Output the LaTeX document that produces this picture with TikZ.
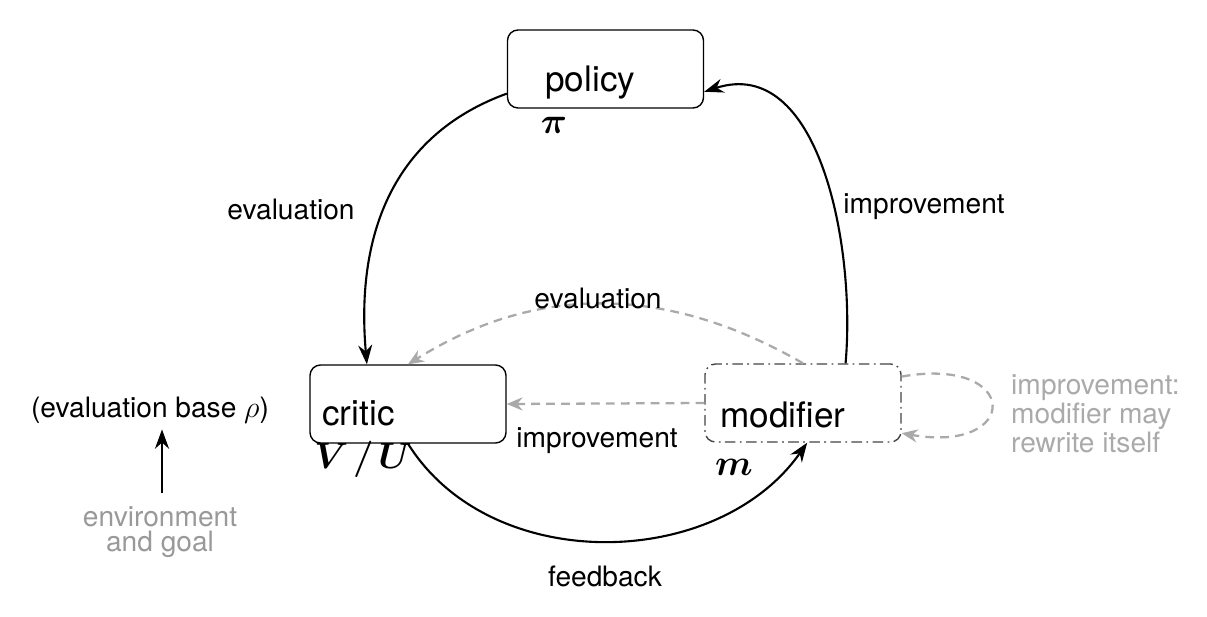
\documentclass[tikz,border=0pt]{standalone}
\usepackage{fontspec}
\setmainfont{TeX Gyre Heros}
\usetikzlibrary{arrows.meta}
\definecolor{greyline}{HTML}{AAAAAA}
\definecolor{greytext}{HTML}{999999}
\definecolor{dashbox}{HTML}{444444}
\tikzset{
  box/.style={draw, rounded corners=6pt, line width=0.8pt, minimum width=3.92cm, minimum height=1.56cm},
  boxtext/.style={anchor=base west, inner sep=0pt, font=\fontsize{20}{24}\selectfont},
  mathlbl/.style={font=\fontsize{20}{24}\selectfont\boldmath},
  lbl/.style={font=\fontsize{16}{19}\selectfont},
  flow/.style={line width=1.2pt, -{Stealth[length=11pt,width=8pt]}},
  greyflow/.style={line width=1.3pt, draw=greyline, dash pattern=on 5pt off 3.5pt, -{Stealth[length=9pt,width=7.5pt]}},
}
\begin{document}
\begin{tikzpicture}
    \useasboundingbox (0,0) rectangle (24.14,12.32);
    % Kaesten
    \node [box] (policy) at (12.11, 10.94) {};
    \node [box] (critic) at (8.16, 4.24) {};
    \node [box, draw=dashbox, dash pattern=on 6pt off 2.5pt on 1pt off 2.5pt] (modifier) at (16.06, 4.26) {};
    \node [boxtext] (policytext)   at (10.90, 10.48) {policy};
    \node [boxtext] (critictext)   at ( 6.44,  3.82) {critic};
    \node [boxtext] (modifiertext) at (14.40,  3.78) {modifier};
    % Symbole
    \node [mathlbl] (pi) at (11.08, 9.82) {$\pi$};
    \node [mathlbl] (vu) at ( 7.26, 3.14) {$V\mkern2mu/\mkern2mu U$};
    \node [mathlbl] (m)  at (14.68, 2.98) {$m$};
    % Kreislauf
    \draw [flow] (policy.194) to [out=200, in=95, looseness=1.05] (critic.136);
    \draw [flow] (modifier.43) to [out=85, in=18] (policy.-13);
    \draw [flow] (critic.south) to [out=-58, in=-125] (modifier.-84);
    % Rueckwirkung des modifier
    \draw [greyflow] (modifier.north) to [out=150, in=32] (critic.north);
    \draw [greyflow] (modifier.west) -- (critic.east);
    \draw [greyflow] (modifier.15) to [out=10, in=-10, looseness=5.5] (modifier.-17);
    % Beschriftungen
    \node [lbl] (evalleft)  at ( 5.82, 8.14) {evaluation};
    \node [lbl] (impright)  at (18.48, 8.18) {improvement};
    \node [lbl] (evalmid)   at (11.96, 6.36) {evaluation};
    \node [lbl] (implow)    at (11.94, 3.50) {improvement};
    \node [lbl] (feedback)  at (12.10, 0.80) {feedback};
    \node [lbl, text=greyline, anchor=west, align=left, font=\fontsize{16}{16.5}\selectfont] (selfnote) at (20.10, 4.04)
        {improvement:\\modifier may\\rewrite itself};
    % Bewertungsbasis
    \node [lbl] (evalbase) at (3.00, 4.12) {(evaluation base $\rho$)};
    \node [lbl, text=greytext, align=center, font=\fontsize{16}{14}\selectfont] (envgoal) at (3.20, 1.68) {environment\\and goal};
    \draw [flow, shorten <=4pt] (envgoal.north -| 3.24,0) -- (evalbase.south -| 3.24,0);
\end{tikzpicture}
\end{document}
